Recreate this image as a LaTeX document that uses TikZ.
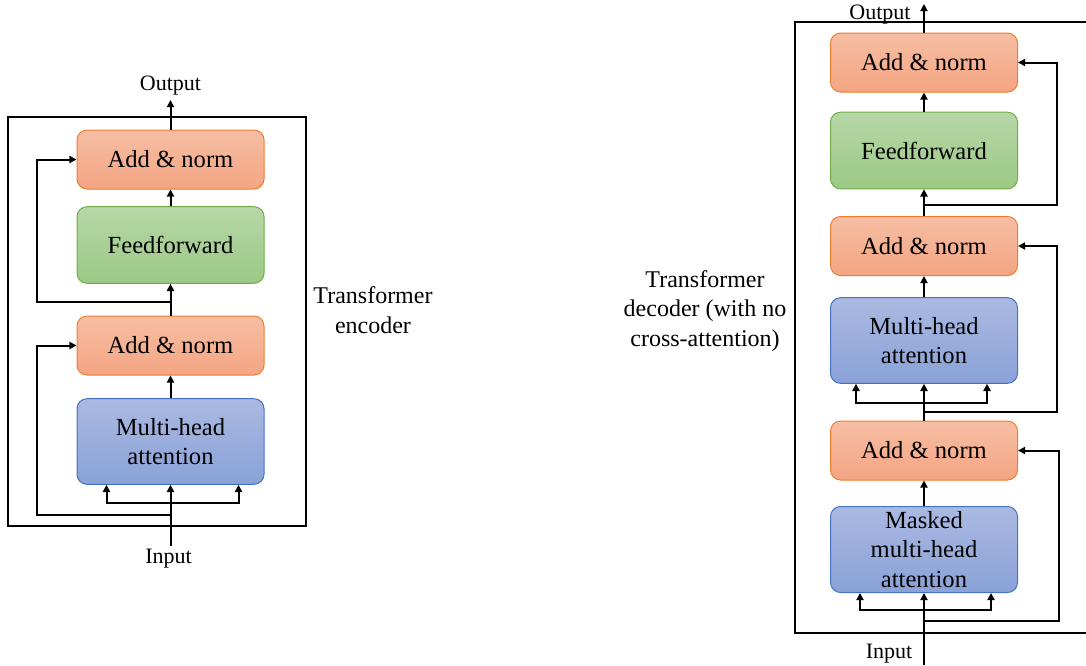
\documentclass[tikz,border=0pt]{standalone}
\usepackage{fontspec}
\setmainfont{Liberation Serif}
\usetikzlibrary{arrows.meta}
\definecolor{antop}{HTML}{F6BEA4}
\definecolor{anbot}{HTML}{F4A582}
\definecolor{anedge}{HTML}{ED7D31}
\definecolor{fftop}{HTML}{B6D7A8}
\definecolor{ffbot}{HTML}{9CC985}
\definecolor{ffedge}{HTML}{70AD47}
\definecolor{mhtop}{HTML}{AAB9E1}
\definecolor{mhbot}{HTML}{8AA2D8}
\definecolor{mhedge}{HTML}{4472C4}
\begin{document}
\begin{tikzpicture}[x=0.5pt,y=-0.5pt,
  blk/.style={rounded corners=5pt, line width=0.5pt, minimum width=93.5pt,
    align=center, inner sep=0pt, font=\fontsize{12.3}{14.8}\selectfont},
  anbox/.style={blk, draw=anedge, top color=antop, bottom color=anbot, minimum height=29.5pt},
  ffbox/.style={blk, draw=ffedge, top color=fftop, bottom color=ffbot, minimum height=38.3pt},
  mhbox/.style={blk, draw=mhedge, top color=mhtop, bottom color=mhbot, minimum height=42.8pt},
  io/.style={font=\fontsize{11}{13}\selectfont, inner sep=0pt},
  lbl/.style={font=\fontsize{12}{14.7}\selectfont, align=center, inner sep=0pt},
  ln/.style={line width=1pt},
  arr/.style={line width=1pt, -{Triangle[length=3.6pt,width=3.6pt]}},
  frame/.style={line width=1pt}]
\useasboundingbox (0,0) rectangle (1086,665);

% ---------------- Encoder ----------------
\draw[frame] (8,117) rectangle (306,526);
\node[anbox] (ean2) at (170.5,159.5) {Add \& norm};
\node[ffbox] (eff) at (170.5,245) {Feedforward};
\node[anbox] (ean1) at (170.5,345.5) {Add \& norm};
\node[mhbox] (emha) at (170.5,441.5) {Multi-head\\attention};
\node[io] (eout) at (170.5,86) {Output};
\node[io] (ein) at (168.5,559) {Input};
\coordinate (eouttip) at (170.5,100);
\coordinate (einbase) at (170.5,546);
\node[lbl] (elbl) at (373,310) {Transformer\\encoder};

\draw[arr] (einbase) -- (emha.south);
\draw[arr] (170.5,503) -| ([xshift=-32pt]emha.south);
\draw[arr] (170.5,503) -| ([xshift=34pt]emha.south);
\draw[arr] (170.5,515) -| (37,345.5) -- (ean1.west);
\draw[arr] (emha.north) -- (ean1.south);
\draw[arr] (ean1.north) -- (eff.south);
\draw[arr] (170.5,302) -| (37,159.5) -- (ean2.west);
\draw[arr] (eff.north) -- (ean2.south);
\draw[arr] (ean2.north) -- (eouttip);

% ---------------- Decoder ----------------
\draw[frame] (795,22) rectangle (1100,633);
\node[anbox] (dan3) at (924,62.5) {Add \& norm};
\node[ffbox] (dff) at (924,150.5) {Feedforward};
\node[anbox] (dan2) at (924,246) {Add \& norm};
\node[mhbox] (dmha) at (924,340.5) {Multi-head\\attention};
\node[anbox] (dan1) at (924,450.5) {Add \& norm};
\node[mhbox, minimum height=43pt] (dmmha) at (924,549.5) {Masked\\multi-head\\attention};
\node[io] (dout) at (880,15) {Output};
\node[io] (din) at (889,654) {Input};
\coordinate (douttip) at (924,4);
\coordinate (dinbase) at (924,665);
\node[lbl] (dlbl) at (705,311) {Transformer\\decoder (with no\\cross-attention)};

\draw[arr] (dinbase) -- (dmmha.south);
\draw[arr] (924,610) -| ([xshift=-32pt]dmmha.south);
\draw[arr] (924,610) -| ([xshift=33.5pt]dmmha.south);
\draw[arr] (924,621) -| (1059,450.5) -- (dan1.east);
\draw[arr] (dmmha.north) -- (dan1.south);
\draw[arr] (dan1.north) -- (dmha.south);
\draw[arr] (924,403) -| ([xshift=-34pt]dmha.south);
\draw[arr] (924,403) -| ([xshift=31.5pt]dmha.south);
\draw[arr] (924,412) -| (1057,246) -- (dan2.east);
\draw[arr] (dmha.north) -- (dan2.south);
\draw[arr] (dan2.north) -- (dff.south);
\draw[arr] (924,205) -| (1057,62.5) -- (dan3.east);
\draw[arr] (dff.north) -- (dan3.south);
\draw[arr] (dan3.north) -- (douttip);
\end{tikzpicture}
\end{document}
